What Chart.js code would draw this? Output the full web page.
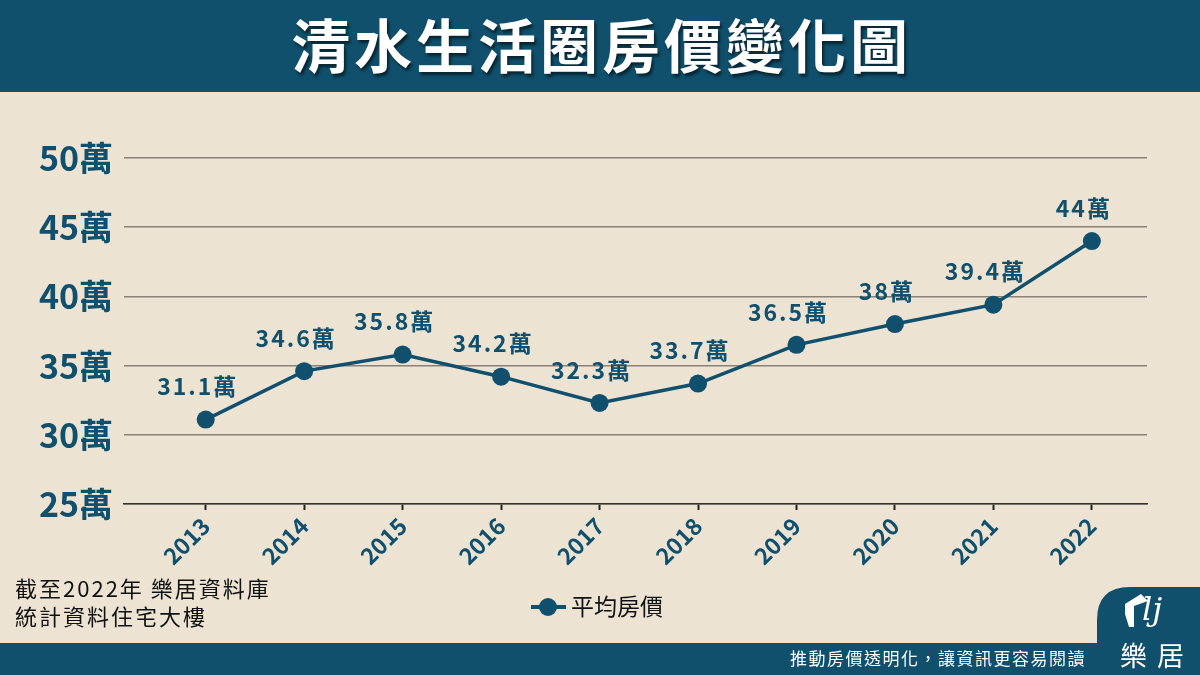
<!DOCTYPE html>
<html>
<head>
<meta charset="utf-8">
<script src="https://cdn.jsdelivr.net/npm/chart.js@4/dist/chart.umd.min.js"></script>
<style>
  html, body { margin: 0; padding: 0; background: #ece3d3; }
  #c { display: block; }
</style>
</head>
<body>
<canvas id="c" width="1200" height="675"></canvas>
<script>
// 資料
const years = [2013, 2014, 2015, 2016, 2017, 2018, 2019, 2020, 2021, 2022];
const prices = [31.1, 34.6, 35.8, 34.2, 32.3, 33.7, 36.5, 38, 39.4, 44];
const yTicks = [25, 30, 35, 40, 45, 50];
const seriesName = '平均房價';
const unit = '萬';
const titleText = '清水生活圈房價變化圖';
const noteLines = ['截至2022年 樂居資料庫', '統計資料住宅大樓'];
const footerText = '推動房價透明化，讓資訊更容易閱讀';

const TEAL = '#10506c';
const BG = '#ece3d3';
const FONT = '"Noto Sans CJK TC", "Noto Sans", sans-serif';

// 背景、標題、頁尾
const backdrop = {
  id: 'backdrop',
  beforeDraw(chart) {
    const ctx = chart.ctx;
    ctx.save();
    ctx.fillStyle = BG;
    ctx.fillRect(0, 0, chart.width, chart.height);
    ctx.fillStyle = TEAL;
    ctx.fillRect(0, 0, chart.width, 92);
    ctx.font = 'bold 58px ' + FONT;
    ctx.textAlign = 'center';
    ctx.textBaseline = 'middle';
    ctx.letterSpacing = '4px';
    ctx.shadowColor = 'rgba(0,0,0,0.55)';
    ctx.shadowOffsetX = 2;
    ctx.shadowOffsetY = 3;
    ctx.shadowBlur = 3;
    ctx.fillStyle = '#ffffff';
    ctx.fillText(titleText, 602, 46);
    ctx.restore();
  },
  afterDraw(chart) {
    const ctx = chart.ctx;
    ctx.save();
    // 頁尾
    ctx.fillStyle = TEAL;
    ctx.fillRect(0, 643, chart.width, 32);
    ctx.beginPath();
    ctx.moveTo(1097, 675);
    ctx.lineTo(1097, 620);
    ctx.quadraticCurveTo(1097, 587, 1130, 587);
    ctx.lineTo(1200, 587);
    ctx.lineTo(1200, 675);
    ctx.closePath();
    ctx.fill();

    ctx.fillStyle = '#ffffff';
    ctx.font = '17px ' + FONT;
    ctx.textAlign = 'right';
    ctx.textBaseline = 'middle';
    ctx.letterSpacing = '1.5px';
    ctx.fillText(footerText, 1086, 659);

    // logo
    ctx.beginPath();
    ctx.moveTo(1125, 614);
    ctx.lineTo(1125, 604);
    ctx.lineTo(1141, 594);
    ctx.lineTo(1148, 601);
    ctx.lineTo(1134, 606);
    ctx.lineTo(1134, 627);
    ctx.lineTo(1129, 627);
    ctx.closePath();
    ctx.fill();
    ctx.font = 'italic 32px "DejaVu Serif", serif';
    ctx.textAlign = 'left';
    ctx.letterSpacing = '0px';
    ctx.fillText('lj', 1142, 612);
    ctx.font = '27px ' + FONT;
    ctx.textAlign = 'center';
    ctx.letterSpacing = '10px';
    ctx.fillText('樂居', 1157, 656);

    // 註解
    ctx.fillStyle = '#111111';
    ctx.font = '22px ' + FONT;
    ctx.textAlign = 'left';
    ctx.letterSpacing = '2px';
    noteLines.forEach((t, i) => ctx.fillText(t, 15, 589 + i * 28));

    // 圖例
    const ds = chart.data.datasets[0];
    ctx.strokeStyle = ds.borderColor;
    ctx.lineWidth = 4;
    ctx.beginPath();
    ctx.moveTo(531, 607);
    ctx.lineTo(566, 607);
    ctx.stroke();
    ctx.fillStyle = ds.borderColor;
    ctx.beginPath();
    ctx.arc(548, 607, 9, 0, Math.PI * 2);
    ctx.fill();
    ctx.fillStyle = '#111111';
    ctx.font = '23px ' + FONT;
    ctx.letterSpacing = '0px';
    ctx.fillText(ds.label, 571, 606);
    ctx.restore();
  },
  afterDatasetsDraw(chart) {
    // 數值標籤
    const ctx = chart.ctx;
    const meta = chart.getDatasetMeta(0);
    ctx.save();
    ctx.fillStyle = TEAL;
    ctx.font = 'bold 23px ' + FONT;
    ctx.textAlign = 'center';
    ctx.textBaseline = 'middle';
    ctx.letterSpacing = '2px';
    meta.data.forEach((pt, i) => {
      ctx.fillText(prices[i] + unit, pt.x - 8, pt.y - 33);
    });
    ctx.restore();
  }
};

const chart = new Chart(document.getElementById('c'), {
  type: 'line',
  data: {
    datasets: [{
      label: seriesName,
      data: years.map((y, i) => ({ x: y, y: prices[i] })),
      borderColor: TEAL,
      backgroundColor: TEAL,
      borderWidth: 3.5,
      pointRadius: 9,
      pointBackgroundColor: TEAL,
      pointBorderWidth: 0,
      tension: 0
    }]
  },
  options: {
    responsive: false,
    animation: false,
    layout: { padding: { left: 0, top: 158, right: 53, bottom: 0 } },
    plugins: {
      legend: { display: false },
      tooltip: { enabled: false }
    },
    scales: {
      x: {
        type: 'linear',
        min: 2012.17,
        max: 2022.56,
        afterBuildTicks: s => { s.ticks = years.map(v => ({ value: v })); },
        afterFit: s => { s.height = 171; },
        ticks: {
          autoSkip: false,
          maxRotation: 45,
          minRotation: 45,
          padding: 2,
          color: TEAL,
          font: { family: FONT, size: 23, weight: 'bold' },
          callback: v => String(v)
        },
        grid: { drawOnChartArea: false, tickLength: 6, tickWidth: 2, color: '#222222' },
        border: { color: '#333333', width: 1.5 }
      },
      y: {
        min: 25,
        max: 50,
        afterBuildTicks: s => { s.ticks = yTicks.map(v => ({ value: v })); },
        afterFit: s => { s.width = 124; },
        ticks: {
          padding: 11,
          color: TEAL,
          font: { family: FONT, size: 34, weight: 'bold' },
          callback: v => v + unit
        },
        grid: { color: '#8a8176', lineWidth: 1.5, drawTicks: false },
        border: { display: false }
      }
    }
  },
  plugins: [backdrop]
});
</script>
</body>
</html>
